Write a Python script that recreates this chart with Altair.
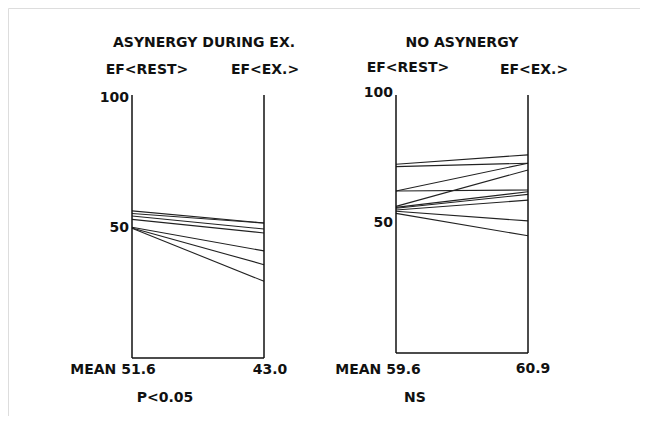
import altair as alt
import pandas as pd

# ---- data ----
left_rest = [56.6, 55.6, 54.6, 53.3, 50.3, 50.0, 49.9]
left_ex = [51.9, 51.9, 49.6, 48.1, 41.2, 35.9, 29.5]
right_rest = [72.6, 71.7, 62.3, 62.3, 56.4, 56.0, 55.7, 55.0, 54.5, 53.7]
right_ex = [76.2, 73.0, 73.0, 62.7, 70.4, 62.0, 61.0, 58.8, 50.8, 45.1]

panel_titles = ["ASYNERGY DURING EX.", "NO ASYNERGY"]
col_headers = ["EF<REST>", "EF<EX.>"]
mean_rest = ["MEAN 51.6", "MEAN 59.6"]
mean_ex = ["43.0", "60.9"]
stats = ["P<0.05", "NS"]
tick_values = [50, 100]

FONT = "DejaVu Sans"
FS = 14


def lines_df(rest, ex, base):
    rows = []
    for i, (r, e) in enumerate(zip(rest, ex)):
        rows.append({"id": i, "pos": base, "value": r})
        rows.append({"id": i, "pos": base + 1, "value": e})
    return pd.DataFrame(rows)


xs = alt.Scale(domain=[0, 3], range=[124, 520])
ys = alt.Scale(domain=[0, 100], range=[347, 87])


def panel(rest, ex, base, yoff):
    ldf = lines_df(rest, ex, base)
    lines = alt.Chart(ldf).mark_line(color="#222", strokeWidth=1.1, yOffset=yoff).encode(
        x=alt.X("pos:Q", scale=xs, axis=None),
        y=alt.Y("value:Q", scale=ys, axis=None),
        detail="id:N",
    )
    vdf = pd.DataFrame({"pos": [base, base + 1], "lo": [0, 0], "hi": [100, 100]})
    verts = alt.Chart(vdf).mark_rule(color="#111", strokeWidth=1.5, yOffset=yoff).encode(
        x=alt.X("pos:Q", scale=xs, axis=None),
        y=alt.Y("lo:Q", scale=ys, axis=None),
        y2="hi:Q",
    )
    bdf = pd.DataFrame({"a": [base], "b": [base + 1], "v": [0]})
    bottom = alt.Chart(bdf).mark_rule(color="#111", strokeWidth=1.5, yOffset=yoff).encode(
        x=alt.X("a:Q", scale=xs, axis=None),
        x2="b:Q",
        y=alt.Y("v:Q", scale=ys, axis=None),
    )
    tdf = pd.DataFrame({"pos": [base] * len(tick_values), "v": tick_values,
                        "lab": [str(t) for t in tick_values]})
    ticks = alt.Chart(tdf).mark_text(align="right", baseline="middle", dx=-3, yOffset=yoff,
                                     font=FONT, fontSize=14, fontWeight="bold", color="#111").encode(
        x=alt.X("pos:Q", scale=xs, axis=None),
        y=alt.Y("v:Q", scale=ys, axis=None),
        text="lab:N",
    )
    return [lines, verts, bottom, ticks]


def label(txt, x, y):
    return alt.Chart(pd.DataFrame({"t": [txt]})).mark_text(
        align="center", baseline="middle", font=FONT, fontSize=FS, fontWeight="bold", color="#111"
    ).encode(x=alt.value(x), y=alt.value(y), text="t:N")


layers = []
layers += panel(left_rest, left_ex, 0, 3)
layers += panel(right_rest, right_ex, 2, -2)

layers += [
    label(panel_titles[0], 196, 35),
    label(panel_titles[1], 454, 35),
    label(col_headers[0], 139, 62),
    label(col_headers[1], 257, 62),
    label(col_headers[0], 400, 60),
    label(col_headers[1], 526, 62),
    label(mean_rest[0], 105, 362),
    label(mean_ex[0], 262, 362),
    label(mean_rest[1], 370, 362),
    label(mean_ex[1], 525, 361),
    label(stats[0], 157, 390),
    label(stats[1], 407, 390),
]

chart = alt.layer(*layers).properties(
    width=632, height=408,
    autosize=alt.AutoSizeParams(type="none"),
    padding=0,
).configure_view(stroke=None).configure(background="white")

chart.save("out.html", embed_options={"renderer": "svg", "actions": False})
